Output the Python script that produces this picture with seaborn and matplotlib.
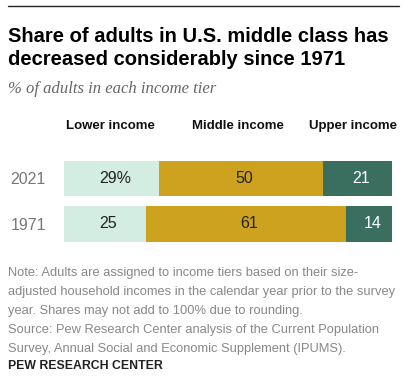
import matplotlib
matplotlib.use("Agg")
import matplotlib.pyplot as plt
import seaborn as sns
import pandas as pd

# data
years = ["2021", "1971"]
tiers = ["Lower income", "Middle income", "Upper income"]
lower = [29, 25]
middle = [50, 61]
upper = [21, 14]
colors = ["#d3ede2", "#cca21f", "#3a6f60"]
text_colors = ["#222222", "#222222", "#ffffff"]

sns.set_theme(style="white")
plt.rcParams["font.family"] = ["Liberation Sans", "DejaVu Sans"]

df = pd.DataFrame({"year": years, "lower": lower, "middle": middle, "upper": upper})
df["cum_mid"] = df["lower"] + df["middle"]
df["total"] = df["cum_mid"] + df["upper"]

fig = plt.figure(figsize=(4.09, 3.81), dpi=100)
W, H = 409, 381
ax = fig.add_axes([64 / W, (H - 246.75) / H, 328 / W, 91 / H])

# stacked bars drawn back to front
for col, c in zip(["total", "cum_mid", "lower"], colors[::-1]):
    sns.barplot(data=df, x=col, y="year", color=c, width=0.77,
                saturation=1, ax=ax, orient="h", linewidth=0)

ax.set_xlim(0, 100)
ax.set_ylim(1.5, -0.5)
ax.set_xlabel("")
ax.set_ylabel("")
ax.set_xticks([])
ax.tick_params(axis="y", length=0, pad=13, labelsize=11.5, labelcolor="#777777")
sns.despine(ax=ax, left=True, bottom=True)

# segment labels
for i in range(len(years)):
    starts = [0, lower[i], lower[i] + middle[i]]
    vals = [lower[i], middle[i], upper[i]]
    for j, (s, v) in enumerate(zip(starts, vals)):
        lab = f"{v}%" if (i == 0 and j == 0) else str(v)
        ax.text(s + v / 2 + 1, i, lab, ha="center", va="center",
                fontsize=11.5, color=text_colors[j])

# column headers
hx = [110, 238, 353]
for t, x in zip(tiers, hx):
    fig.text(x / W, 1 - 126 / H, t, ha="center", va="center",
             fontsize=9.5, fontweight="bold", color="#111111")

# top rule
fig.add_artist(plt.Line2D([8 / W, 399 / W], [1 - 6 / H, 1 - 6 / H],
                          color="#222222", lw=1))

fig.text(8 / W, 1 - 42 / H, "Share of adults in U.S. middle class has",
         fontsize=14.5, fontweight="bold", color="#000000", va="baseline")
fig.text(8 / W, 1 - 65 / H, "decreased considerably since 1971",
         fontsize=14.5, fontweight="bold", color="#000000", va="baseline")
fig.text(8 / W, 1 - 93 / H, "% of adults in each income tier",
         fontsize=12, style="italic", color="#666666", va="baseline",
         family=["Liberation Serif", "DejaVu Serif"])

notes = [
    "Note: Adults are assigned to income tiers based on their size-",
    "adjusted household incomes in the calendar year prior to the survey",
    "year. Shares may not add to 100% due to rounding.",
    "Source: Pew Research Center analysis of the Current Population",
    "Survey, Annual Social and Economic Supplement (IPUMS).",
]
for k, line in enumerate(notes):
    fig.text(8 / W, 1 - (273 + 19 * k) / H, line, fontsize=9.3,
             color="#888888", va="center")

fig.text(8 / W, 1 - 366 / H, "PEW RESEARCH CENTER", fontsize=8.8,
         fontweight="bold", color="#222222", va="center")

fig.savefig("out.png", dpi=100)
